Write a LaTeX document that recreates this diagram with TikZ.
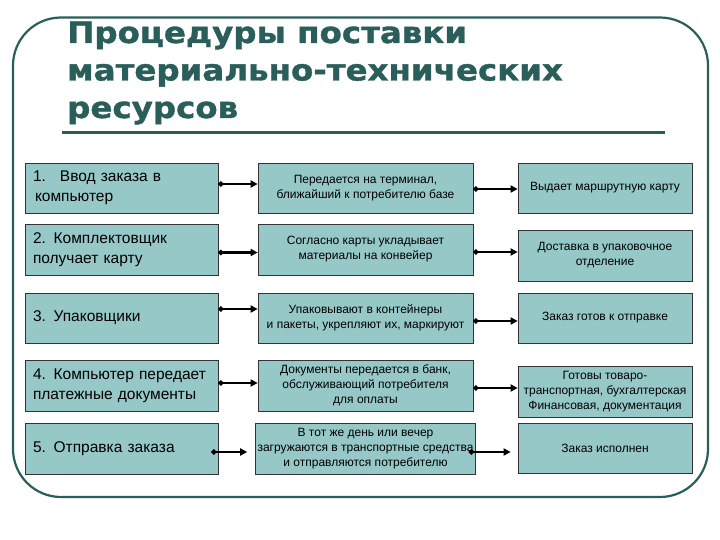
\documentclass[tikz,border=0pt]{standalone}
\usepackage{fontspec}
\setmainfont{Liberation Sans}
\newfontfamily\titlefont[FakeStretch=1.1,FakeBold=1.2]{DejaVu Sans Bold}
\usetikzlibrary{arrows.meta}
\definecolor{teal1}{RGB}{42,94,90}
\definecolor{boxfill}{RGB}{150,200,200}
\tikzset{
  frameline/.style={draw=teal1,line width=2.2pt},
  titletext/.style={anchor=base west,inner sep=0pt,text=teal1,font=\titlefont\fontsize{29.5}{34}\selectfont},
  box/.style={draw=black!80,line width=0.7pt,fill=boxfill,rectangle,inner sep=2pt},
  leftbox/.style={box,text width=177pt,align=left,inner xsep=8pt,font=\fontsize{15.5}{20}\selectfont},
  midbox/.style={box,align=center,font=\fontsize{12}{15}\selectfont},
  arr/.style={line width=2.6pt,{Circle[length=5pt]}-{Triangle[length=7pt,width=7pt]}}
}
\begin{document}
\begin{tikzpicture}[x=1pt,y=-1pt]
\useasboundingbox (0,0) rectangle (720,540);
\draw[frameline,rounded corners=48pt] (13,17.5) rectangle (708,497);
\node[titletext] (t1) at (67,43) {Процедуры поставки};
\node[titletext] (t2) at (67,80.5) {материально-технических};
\node[titletext] (t3) at (67,118) {ресурсов};
\draw[draw=teal1,line width=3pt] (62,133) -- (665,133);

% column 1
\node[leftbox,minimum height=50pt] (a1) at (121.5,188) {1.\hspace{14pt}Ввод заказа в\\\hspace{2pt}компьютер};
\node[leftbox,minimum height=51pt] (a2) at (121.5,249.5) {2. Комплектовщик\\получает карту};
\node[leftbox,minimum height=50pt] (a3) at (121.5,318) {3. Упаковщики};
\node[leftbox,minimum height=51pt] (a4) at (121.5,385.5) {4. Компьютер передает\\платежные документы};
\node[leftbox,minimum height=51pt] (a5) at (121.5,448.5) {5. Отправка заказа};

% column 2
\node[midbox,minimum width=215pt,minimum height=50pt] (b1) at (365.5,188) {Передается на терминал,\\ближайший к потребителю базе};
\node[midbox,minimum width=215pt,minimum height=51pt] (b2) at (365.5,249.5) {Согласно карты укладывает\\материалы на конвейер};
\node[midbox,minimum width=215pt,minimum height=50pt] (b3) at (365.5,318) {Упаковывают в контейнеры\\и пакеты, укрепляют их, маркируют};
\node[midbox,minimum width=215pt,minimum height=51pt] (b4) at (365.5,385.5) {Документы передается в банк,\\обслуживающий потребителя\\для оплаты};
\node[midbox,minimum width=215pt,minimum height=51pt] (b5) at (365.5,448.5) {В тот же день или вечер\\загружаются в транспортные средства\\и отправляются потребителю};

% column 3
\node[midbox,minimum width=174pt,minimum height=50pt] (c1) at (605,188) {Выдает маршрутную карту};
\node[midbox,minimum width=174pt,minimum height=51pt] (c2) at (605,255.5) {Доставка в упаковочное\\отделение};
\node[midbox,minimum width=174pt,minimum height=50pt] (c3) at (605,318) {Заказ готов к отправке};
\node[midbox,minimum width=174pt,minimum height=51pt] (c4) at (605,391.5) {Готовы товаро-\\транспортная, бухгалтерская\\Финансовая, документация};
\node[midbox,minimum width=174pt,minimum height=50pt] (c5) at (605,448) {Заказ исполнен};

% arrows col1 -> col2
\draw[arr] ([yshift=4pt]a1.east) coordinate (p1) -- (p1 -| b1.west);
\draw[arr] ([yshift=-3pt]a2.east) coordinate (p2) -- (p2 -| b2.west);
\draw[arr] ([yshift=9pt]a3.east) coordinate (p3) -- (p3 -| b3.west);
\draw[arr] ([yshift=2.5pt]a4.east) coordinate (p4) -- (p4 -| b4.west);
\draw[arr] ([xshift=-7pt,yshift=-3.5pt]a5.east) coordinate (p5) -- ([xshift=-8pt]p5 -| b5.west);

% arrows col2 -> col3
\draw[arr] ([yshift=-1pt]b1.east) coordinate (q1) -- (q1 -| c1.west);
\draw[arr] ([yshift=-2.5pt]b2.east) coordinate (q2) -- (q2 -| c2.west);
\draw[arr] ([yshift=-3pt]b3.east) coordinate (q3) -- (q3 -| c3.west);
\draw[arr] ([yshift=-2.5pt]b4.east) coordinate (q4) -- (q4 -| c4.west);
\draw[arr] ([xshift=-7pt,yshift=-3.5pt]b5.east) coordinate (q5) -- ([xshift=-7pt]q5 -| c5.west);
\end{tikzpicture}
\end{document}
